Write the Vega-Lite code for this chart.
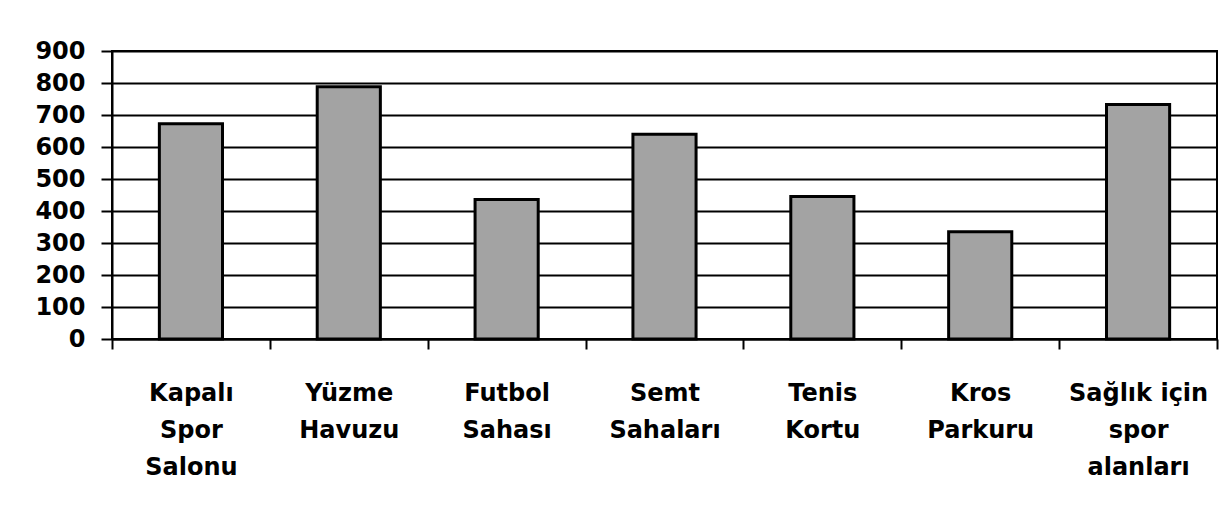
{
  "$schema": "https://vega.github.io/schema/vega-lite/v6.json",
  "width": 1105,
  "height": 288,
  "autosize": {"type": "none"},
  "padding": {"left": 112, "top": 51, "right": 12, "bottom": 181},
  "background": "white",
  "config": {
    "view": {"stroke": "black", "strokeWidth": 2},
    "font": "DejaVu Sans"
  },
  "data": {
    "values": [
      {"cat": "Kapalı|Spor|Salonu", "value": 673},
      {"cat": "Yüzme|Havuzu", "value": 788},
      {"cat": "Futbol|Sahası", "value": 436},
      {"cat": "Semt|Sahaları", "value": 640},
      {"cat": "Tenis|Kortu", "value": 445},
      {"cat": "Kros|Parkuru", "value": 335},
      {"cat": "Sağlık için|spor|alanları", "value": 733}
    ]
  },
  "mark": {"type": "bar", "fill": "#a3a3a3", "stroke": "black", "strokeWidth": 3, "width": {"band": 0.4}},
  "encoding": {
    "x": {
      "field": "cat",
      "type": "nominal",
      "sort": null,
      "scale": {"paddingInner": 0, "paddingOuter": 0},
      "axis": {
        "title": null,
        "labelAngle": 0,
        "labelExpr": "split(datum.label, '|')",
        "labelFont": "DejaVu Sans",
        "labelFontWeight": "bold",
        "labelFontSize": 24,
        "labelLineHeight": 37,
        "labelColor": "black",
        "labelPadding": 32,
        "labelBaseline": "top",
        "labelLimit": 0,
        "labelOverlap": false,
        "tickBand": "extent",
        "tickSize": 10,
        "tickColor": "black",
        "tickWidth": 2,
        "domainColor": "black",
        "domainWidth": 2,
        "grid": false
      }
    },
    "y": {
      "field": "value",
      "type": "quantitative",
      "scale": {"domain": [0, 900]},
      "axis": {
        "title": null,
        "values": [0, 100, 200, 300, 400, 500, 600, 700, 800, 900],
        "grid": true,
        "gridColor": "black",
        "gridWidth": 2,
        "gridOpacity": 1,
        "tickSize": 11,
        "tickColor": "black",
        "tickWidth": 2,
        "domainColor": "black",
        "domainWidth": 2,
        "labelFont": "DejaVu Sans",
        "labelFontWeight": "bold",
        "labelFontSize": 24,
        "labelColor": "black",
        "labelPadding": 16
      }
    }
  }
}
